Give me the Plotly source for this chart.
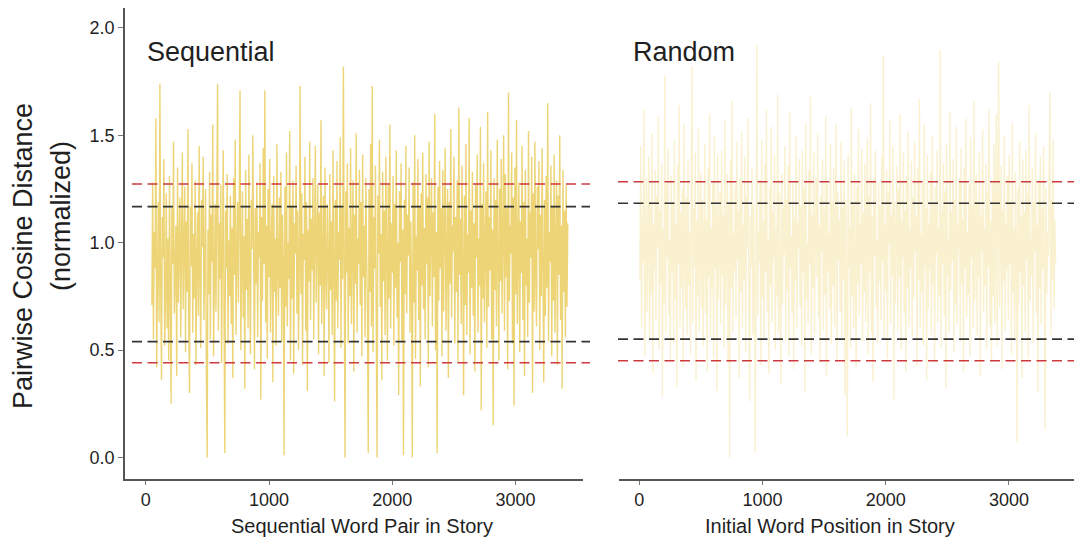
import plotly.graph_objects as go

# ---------------- data ----------------
seq_start, seq_step = 50, 6.5
seq_values = [
    0.71, 1.28, 0.55, 1.05, 0.88, 1.58, 0.42, 0.97, 1.19, 0.63, 1.74, 0.81, 0.36, 1.12, 0.93, 1.39, 0.52, 0.74, 1.23, 0.60,
    1.02, 0.45, 1.31, 0.79, 0.25, 1.16, 0.90, 1.47, 0.67, 0.84, 1.08, 0.38, 1.35, 0.72, 0.99, 1.21, 0.56, 0.86, 1.42, 0.69,
    0.95, 1.26, 0.49, 1.10, 0.77, 1.53, 0.61, 0.30, 1.17, 0.89, 1.37, 0.58, 1.04, 0.74, 1.29, 0.43, 0.92, 1.14, 0.66, 1.45,
    0.82, 0.51, 1.20, 0.98, 1.40, 0.64, 0.87, 1.25, 0.40, 0.00, 1.06, 0.76, 1.33, 0.55, 1.13, 0.91, 1.55, 0.47, 0.80, 1.18,
    0.68, 1.36, 1.74, 0.59, 1.09, 0.83, 1.27, 0.44, 0.96, 1.43, 0.70, 0.02, 1.15, 0.88, 1.32, 0.53, 1.01, 0.75, 1.22, 0.62,
    1.07, 0.37, 1.30, 0.85, 1.48, 0.57, 0.94, 1.19, 0.72, 1.38, 1.71, 0.50, 0.89, 1.24, 0.65, 1.03, 0.32, 1.34, 0.78, 1.11,
    0.60, 1.41, 0.86, 0.48, 1.20, 0.97, 1.50, 0.69, 0.41, 1.16, 0.81, 1.28, 0.56, 1.05, 0.93, 1.37, 0.27, 1.12, 0.73, 1.44,
    0.90, 1.71, 0.63, 1.08, 0.46, 1.25, 0.84, 1.39, 0.58, 0.99, 1.18, 0.35, 1.31, 0.77, 1.02, 0.52, 1.46, 0.87, 0.66, 1.21,
    0.79, 1.33, 0.54, 1.13, 0.91, 0.01, 1.26, 0.70, 1.42, 0.61, 1.00, 0.83, 1.52, 0.45, 1.17, 0.74, 1.29, 0.39, 1.09, 0.95,
    1.36, 0.67, 1.15, 0.50, 0.88, 1.73, 0.76, 1.23, 0.43, 1.04, 0.92, 1.40, 0.59, 1.19, 0.31, 1.06, 0.82, 1.47, 0.64, 1.11,
    0.87, 1.30, 0.55, 1.01, 1.45, 0.72, 0.94, 1.27, 0.48, 1.14, 0.80, 1.57, 0.62, 0.99, 1.22, 0.38, 1.35, 0.85, 0.69, 1.18,
    0.96, 0.44, 1.32, 0.78, 1.10, 0.57, 1.43, 0.89, 0.26, 1.20, 0.73, 1.38, 0.60, 1.05, 0.92, 1.49, 0.51, 1.16, 0.83, 1.82,
    0.66, 0.00, 1.24, 0.86, 1.37, 0.53, 1.07, 0.75, 1.44, 0.62, 0.97, 1.29, 0.40, 1.13, 0.81, 1.51, 0.58, 1.02, 0.90, 1.34,
    0.71, 1.19, 0.47, 1.41, 0.84, 1.08, 0.56, 1.30, 0.93, 0.68, 0.02, 1.25, 0.77, 1.46, 0.61, 1.73, 0.49, 1.12, 0.88, 1.36,
    0.63, 0.00, 1.22, 0.95, 1.48, 0.70, 1.04, 0.36, 1.33, 0.82, 1.15, 0.57, 1.40, 0.89, 0.45, 1.27, 0.74, 1.55, 0.60, 1.09,
    0.86, 1.31, 0.52, 1.18, 0.79, 1.43, 0.65, 1.00, 0.29, 1.24, 0.91, 1.37, 0.54, 1.06, 0.01, 1.20, 0.76, 1.45, 0.67, 1.13,
    0.94, 1.35, 0.58, 1.10, 0.83, 0.00, 1.28, 0.72, 1.50, 0.46, 1.03, 0.87, 1.39, 0.64, 1.17, 0.33, 1.23, 0.80, 1.42, 0.69,
    1.07, 0.55, 1.32, 0.90, 1.21, 0.42, 1.47, 0.75, 0.98, 1.30, 0.61, 1.14, 0.84, 1.60, 0.50, 1.05, 0.02, 1.26, 0.73, 1.38,
    0.88, 1.16, 0.47, 1.34, 0.68, 1.01, 1.44, 0.59, 0.92, 1.25, 0.37, 1.19, 0.81, 1.53, 0.65, 1.08, 0.96, 1.40, 0.53, 1.12,
    0.77, 1.29, 0.44, 1.63, 0.85, 1.11, 0.62, 1.36, 0.90, 0.29, 1.22, 0.71, 1.46, 0.57, 1.04, 0.86, 1.58, 0.48, 1.15, 0.79,
    1.33, 0.66, 1.09, 0.40, 1.27, 0.93, 1.41, 0.58, 1.02, 0.80, 1.54, 0.22, 1.18, 0.74, 1.37, 0.63, 0.99, 1.24, 0.51, 1.61,
    0.70, 1.12, 0.87, 1.43, 0.55, 1.06, 0.15, 1.30, 0.78, 1.20, 0.61, 1.48, 0.91, 0.45, 1.25, 0.82, 1.39, 0.67, 1.03, 1.50,
    0.59, 1.32, 0.84, 1.16, 0.41, 1.70, 0.73, 1.08, 0.95, 1.42, 0.53, 1.21, 0.24, 1.35, 0.76, 1.57, 0.62, 0.97, 1.28, 0.49,
    1.10, 0.86, 1.45, 0.64, 1.19, 0.38, 1.34, 0.80, 1.02, 0.56, 1.52, 0.72, 1.14, 0.93, 1.40, 0.30, 1.23, 0.68, 1.47, 0.83,
    0.61, 1.26, 0.97, 1.38, 0.50, 1.13, 0.75, 1.44, 0.88, 0.35, 1.20, 0.66, 1.31, 0.79, 1.65, 0.54, 1.05, 0.91, 1.36, 0.47,
    1.17, 0.73, 1.41, 0.58, 1.00, 1.29, 0.43, 1.22, 0.85, 1.50, 0.64, 1.08, 0.32, 1.34, 0.77, 1.15, 0.56, 1.27, 0.70, 1.09,
]

rand_start, rand_step = 5, 6.5
rand_values = [
    0.83, 1.45, 0.60, 1.12, 0.91, 1.62, 0.47, 1.03, 1.30, 0.68, 0.95, 1.40, 0.55, 1.18, 0.76, 1.51, 0.39, 1.08, 0.87, 1.34,
    0.64, 1.22, 0.98, 1.59, 0.50, 1.15, 0.81, 1.37, 0.28, 1.06, 0.72, 1.78, 0.58, 1.27, 0.93, 1.44, 0.66, 1.01, 0.45, 1.31,
    0.86, 1.19, 0.53, 1.48, 0.74, 1.09, 0.33, 1.36, 0.90, 1.64, 0.61, 1.14, 0.79, 1.25, 0.42, 1.55, 0.97, 0.69, 1.21, 0.57,
    1.39, 0.80, 1.05, 0.48, 1.29, 1.82, 0.63, 1.16, 0.89, 1.42, 0.36, 1.10, 0.75, 1.53, 0.59, 1.02, 1.33, 0.70, 1.20, 0.52,
    0.94, 1.46, 0.67, 1.11, 0.40, 1.35, 0.84, 1.60, 0.56, 1.07, 0.78, 1.28, 0.46, 1.50, 0.88, 1.17, 0.31, 1.41, 0.73, 1.00,
    1.24, 0.62, 1.43, 0.85, 1.13, 0.51, 1.57, 0.71, 0.96, 1.32, 0.44, 1.19, 0.00, 1.38, 0.79, 1.66, 0.58, 1.04, 0.87, 1.27,
    0.65, 1.47, 0.92, 1.15, 0.37, 1.30, 0.77, 1.52, 0.60, 1.08, 0.83, 1.40, 0.49, 1.21, 0.98, 1.58, 0.70, 0.26, 1.12, 0.89,
    1.35, 0.57, 1.18, 0.81, 0.02, 1.44, 1.92, 0.66, 1.05, 0.91, 1.29, 0.43, 1.48, 0.74, 1.10, 0.55, 1.37, 0.86, 1.62, 0.68,
    1.01, 0.39, 1.26, 0.80, 1.54, 0.63, 1.14, 0.93, 1.41, 0.50, 1.07, 0.75, 1.69, 0.58, 1.23, 0.85, 0.34, 1.32, 0.71, 1.16,
    0.95, 1.45, 0.54, 1.20, 0.78, 1.36, 0.47, 1.61, 0.88, 1.03, 0.67, 1.28, 0.41, 1.12, 0.82, 1.50, 0.60, 1.09, 0.97, 1.39,
    0.70, 1.17, 0.52, 1.43, 0.86, 1.25, 0.30, 1.56, 0.74, 1.00, 0.62, 1.34, 0.90, 1.68, 0.48, 1.13, 0.79, 1.42, 0.57, 1.06,
    1.30, 0.84, 1.51, 0.65, 1.08, 0.44, 1.22, 0.96, 1.39, 0.59, 1.15, 0.76, 1.59, 0.38, 1.27, 0.87, 1.04, 0.69, 1.46, 0.53,
    1.19, 0.80, 1.35, 0.61, 1.02, 1.55, 0.45, 1.24, 0.92, 1.11, 0.68, 1.47, 0.56, 1.16, 0.83, 1.38, 0.29, 1.20, 0.73, 0.10,
    1.41, 0.88, 1.07, 0.51, 1.63, 0.75, 1.18, 0.60, 1.32, 0.97, 0.42, 1.26, 0.81, 1.53, 0.66, 1.09, 0.90, 1.44, 0.54, 1.14,
    0.77, 1.37, 0.63, 1.05, 1.49, 0.48, 1.21, 0.86, 1.65, 0.58, 1.12, 0.35, 1.30, 0.94, 1.43, 0.70, 1.01, 0.53, 1.28, 0.82,
    1.17, 0.64, 1.40, 0.91, 1.87, 0.55, 1.08, 0.78, 1.34, 0.46, 1.23, 0.99, 1.57, 0.62, 1.13, 0.85, 1.45, 0.27, 1.19, 0.72,
    1.03, 1.36, 0.59, 1.25, 0.84, 1.60, 0.50, 1.10, 0.93, 1.42, 0.67, 1.15, 0.40, 1.31, 0.79, 1.52, 0.61, 1.06, 0.88, 1.38,
    0.56, 1.21, 0.74, 1.47, 0.96, 1.12, 0.43, 1.35, 0.83, 1.67, 0.60, 1.04, 0.77, 1.29, 0.52, 1.55, 0.89, 1.16, 0.36, 1.41,
    0.69, 1.09, 0.87, 1.33, 0.57, 1.50, 0.80, 1.18, 0.44, 1.26, 0.95, 1.43, 0.63, 1.07, 0.75, 1.90, 0.51, 1.14, 0.90, 1.37,
    0.66, 1.24, 0.32, 1.46, 0.85, 1.02, 0.58, 1.61, 0.78, 1.15, 0.92, 1.39, 0.49, 1.20, 0.71, 1.54, 0.62, 1.08, 0.97, 1.30,
    0.54, 1.44, 0.81, 1.11, 0.40, 1.35, 0.88, 1.58, 0.65, 1.05, 0.76, 1.27, 0.47, 1.49, 0.93, 1.17, 0.60, 1.66, 0.73, 1.00,
    1.32, 0.57, 1.19, 0.84, 1.42, 0.38, 1.13, 0.96, 1.53, 0.68, 1.07, 0.80, 1.37, 0.50, 1.24, 0.89, 1.62, 0.61, 1.10, 0.45,
    1.28, 0.75, 1.46, 0.63, 1.04, 1.60, 0.52, 1.21, 1.84, 0.70, 0.94, 1.36, 0.41, 1.15, 0.82, 1.50, 0.59, 1.09, 0.87, 1.31,
    0.64, 1.41, 0.90, 1.18, 0.48, 1.56, 0.77, 1.06, 0.55, 1.33, 0.98, 0.07, 1.25, 0.71, 1.47, 0.86, 1.12, 0.37, 1.39, 0.80,
    1.14, 0.58, 1.43, 0.92, 1.23, 0.46, 1.64, 0.73, 1.02, 0.85, 1.35, 0.53, 1.19, 0.96, 1.51, 0.67, 1.08, 0.30, 1.29, 0.79,
    1.40, 0.62, 1.16, 0.88, 1.45, 0.51, 0.13, 1.26, 0.76, 1.05, 0.94, 1.37, 1.70, 0.57, 1.20, 0.83, 1.48, 0.69, 1.11, 0.90,
]

# reference lines: [low, high]
seq_red = [0.441, 1.273]
seq_black = [0.539, 1.168]
rand_red = [0.450, 1.284]
rand_black = [0.551, 1.184]

x_ticks = [0, 1000, 2000, 3000]
y_ticks = [0.0, 0.5, 1.0, 1.5, 2.0]
y_tick_text = ["0.0", "0.5", "1.0", "1.5", "2.0"]

seq_x = [seq_start + i * seq_step for i in range(len(seq_values))]
rand_x = [rand_start + i * rand_step for i in range(len(rand_values))]

FONT = "Liberation Sans, Arial, sans-serif"
TXT = "#1f1f1f"
W, H = 1074, 541

fig = go.Figure()
fig.add_trace(go.Scatter(x=seq_x, y=seq_values, mode="lines", xaxis="x", yaxis="y",
                         line=dict(color="rgba(235,208,104,0.9)", width=1.4), hoverinfo="skip",
                         showlegend=False))
fig.add_trace(go.Scatter(x=rand_x, y=rand_values, mode="lines", xaxis="x2", yaxis="y2",
                         line=dict(color="rgba(245,228,162,0.5)", width=1.4), hoverinfo="skip",
                         showlegend=False))

shapes = []
def hline(y, yref, x0, x1, color):
    shapes.append(dict(type="line", xref="paper", yref=yref, x0=x0 / W, x1=x1 / W, y0=y, y1=y,
                       line=dict(color=color, width=1.6, dash="10px,5.5px")))

RED = "#cc3a40"
BLK = "#333333"
for v in seq_red:
    hline(v, "y", 132, 590, RED)
for v in seq_black:
    hline(v, "y", 132, 590, BLK)
for v in rand_red:
    hline(v, "y2", 618, 1074, RED)
for v in rand_black:
    hline(v, "y2", 618, 1074, BLK)

ydom = [1 - 479 / H, 1 - 8 / H]
yrange = [-0.1006, 2.093]
tickfont = dict(family=FONT, size=18, color=TXT)

fig.update_layout(
    width=W, height=H,
    margin=dict(l=0, r=0, t=0, b=0),
    paper_bgcolor="white", plot_bgcolor="white",
    showlegend=False,
    shapes=shapes,
    xaxis=dict(domain=[125 / W, 583 / W], range=[-168, 3547], anchor="y",
               tickvals=x_ticks, ticks="outside", ticklen=4, tickcolor="#777",
               showline=True, linecolor="#555", linewidth=1.5, showgrid=False, zeroline=False,
               tickfont=tickfont),
    xaxis2=dict(domain=[619 / W, 1.0], range=[-165, 3528], anchor="y2",
                tickvals=x_ticks, ticks="outside", ticklen=4, tickcolor="#777",
                showline=True, linecolor="#555", linewidth=1.5, showgrid=False, zeroline=False,
                tickfont=tickfont),
    yaxis=dict(domain=ydom, range=yrange, anchor="x",
               tickvals=y_ticks, ticktext=y_tick_text, ticks="outside", ticklen=5, tickcolor="#777",
               showline=True, linecolor="#555", linewidth=1.5, showgrid=False, zeroline=False,
               tickfont=tickfont),
    yaxis2=dict(domain=ydom, range=yrange, anchor="x2",
                showticklabels=False, ticks="", showline=False, showgrid=False, zeroline=False),
    annotations=[
        dict(text="Sequential", xref="paper", yref="paper", x=145 / W, y=1 - 52 / H,
             xanchor="left", yanchor="middle", showarrow=False,
             font=dict(family=FONT, size=27, color=TXT)),
        dict(text="Random", xref="paper", yref="paper", x=631 / W, y=1 - 52 / H,
             xanchor="left", yanchor="middle", showarrow=False,
             font=dict(family=FONT, size=27, color=TXT)),
        dict(text="Sequential Word Pair in Story", xref="paper", yref="paper", x=362 / W, y=1 - 526 / H,
             xanchor="center", yanchor="middle", showarrow=False,
             font=dict(family=FONT, size=20, color=TXT)),
        dict(text="Initial Word Position in Story", xref="paper", yref="paper", x=830 / W, y=1 - 526 / H,
             xanchor="center", yanchor="middle", showarrow=False,
             font=dict(family=FONT, size=20, color=TXT)),
        dict(text="Pairwise Cosine Distance", xref="paper", yref="paper", x=23 / W, y=1 - 256 / H,
             xanchor="center", yanchor="middle", showarrow=False, textangle=-90,
             font=dict(family=FONT, size=27, color=TXT)),
        dict(text="(normalized)", xref="paper", yref="paper", x=61 / W, y=1 - 216 / H,
             xanchor="center", yanchor="middle", showarrow=False, textangle=-90,
             font=dict(family=FONT, size=27, color=TXT)),
    ],
)

fig.write_html("out.html")
